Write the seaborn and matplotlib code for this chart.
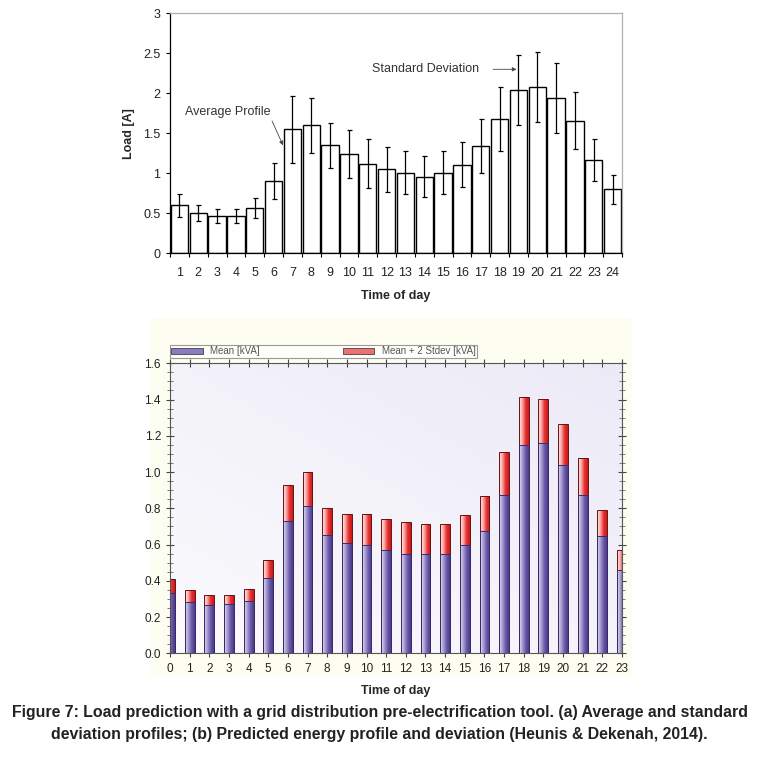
import numpy as np
import pandas as pd
import matplotlib
matplotlib.use("Agg")
import matplotlib.pyplot as plt
import seaborn as sns
from matplotlib.colors import LinearSegmentedColormap
from matplotlib.patches import Rectangle, Patch
from matplotlib.ticker import MultipleLocator, FixedLocator, FormatStrFormatter

# (a) average profile with standard deviation
top_hours = [str(h) for h in range(1, 25)]
top_mean = [0.60, 0.51, 0.47, 0.47, 0.57, 0.90, 1.55, 1.60, 1.35, 1.24, 1.12, 1.05,
            1.01, 0.96, 1.01, 1.11, 1.34, 1.68, 2.04, 2.08, 1.94, 1.66, 1.17, 0.80]
top_std = [0.145, 0.10, 0.085, 0.085, 0.125, 0.225, 0.42, 0.345, 0.28, 0.30, 0.305, 0.285,
           0.265, 0.26, 0.265, 0.28, 0.34, 0.40, 0.44, 0.44, 0.44, 0.36, 0.265, 0.18]

# (b) predicted energy profile
bot_hours = [str(h) for h in range(0, 24)]
bot_mean = [0.335, 0.285, 0.265, 0.27, 0.29, 0.415, 0.73, 0.815, 0.655, 0.61, 0.595, 0.57,
            0.55, 0.55, 0.55, 0.595, 0.675, 0.875, 1.15, 1.16, 1.04, 0.875, 0.645, 0.458]
bot_upper = [0.408, 0.348, 0.323, 0.323, 0.355, 0.517, 0.93, 1.003, 0.803, 0.77, 0.77, 0.742,
             0.722, 0.711, 0.711, 0.762, 0.87, 1.108, 1.413, 1.402, 1.266, 1.077, 0.791, 0.568]

sns.set_style("white")
plt.rcParams['font.family'] = ['Liberation Sans', 'DejaVu Sans']

W, H = 759, 757
fig = plt.figure(figsize=(W / 100, H / 100), dpi=100)


def box(l, t, r, b):
    return [l / W, 1 - b / H, (r - l) / W, (b - t) / H]


# ---------- top chart ----------
ax1 = fig.add_axes(box(170, 13.3, 622, 253.3))
df_top = pd.DataFrame({'hour': top_hours, 'load': top_mean})
sns.barplot(data=df_top, x='hour', y='load', color='white', edgecolor='black',
            linewidth=1.0, width=0.92, errorbar=None, ax=ax1)
ax1.errorbar(np.arange(len(top_mean)), top_mean, yerr=top_std, fmt='none',
             ecolor='black', elinewidth=0.9, capsize=1.8, capthick=0.9)
ax1.set_xlim(-0.5, 23.5)
ax1.set_ylim(0, 3)
ax1.yaxis.set_major_locator(MultipleLocator(0.5))
ax1.yaxis.set_major_formatter(FormatStrFormatter('%g'))
ax1.xaxis.set_minor_locator(FixedLocator(np.arange(-0.5, 24, 1)))
ax1.tick_params(axis='x', which='major', length=0, labelsize=9, pad=10, colors='#222222')
ax1.tick_params(axis='x', which='minor', length=3, width=0.8, direction='out', color='black', bottom=True)
ax1.tick_params(axis='y', length=3, width=0.8, direction='out', labelsize=9,
                color='black', labelcolor='#222222', left=True, pad=4)
for s in ['left', 'bottom']:
    ax1.spines[s].set_color('black')
    ax1.spines[s].set_linewidth(0.9)
for s in ['top', 'right']:
    ax1.spines[s].set_color('#b0b0b0')
    ax1.spines[s].set_linewidth(0.9)
ax1.set_xlabel('Time of day', fontsize=9, fontweight='bold', labelpad=8)
ax1.set_ylabel('Load [A]', fontsize=9, fontweight='bold', labelpad=6)
ax1.annotate('Average Profile', xy=(5.5, 1.35), xytext=(0.3, 1.77), fontsize=9,
             color='#333333', va='center',
             arrowprops=dict(arrowstyle='-|>', color='#444444', lw=0.6,
                             mutation_scale=6, shrinkA=0, shrinkB=0, relpos=(1.0, 0.0)))
ax1.annotate('Standard Deviation', xy=(17.9, 2.30), xytext=(10.2, 2.30), fontsize=9,
             color='#333333', va='center',
             arrowprops=dict(arrowstyle='-|>', color='#444444', lw=0.6,
                             mutation_scale=6, shrinkA=8, shrinkB=0))

# ---------- bottom chart ----------
fig.patches.append(Rectangle((150 / W, 1 - 676 / H), (632 - 150) / W, (676 - 318) / H,
                             transform=fig.transFigure, facecolor='#fdfdf1',
                             edgecolor='none', zorder=-1))
ax2 = fig.add_axes(box(170, 363.3, 622, 653.3))
ax2.set_facecolor('none')

df_bot = pd.DataFrame({'hour': bot_hours, 'mean': bot_mean, 'upper': bot_upper})
sns.barplot(data=df_bot, x='hour', y='upper', color='#e8262a', width=0.5,
            errorbar=None, ax=ax2)
red_bars = list(ax2.patches)
sns.barplot(data=df_bot, x='hour', y='mean', color='#5a4a9a', width=0.5,
            errorbar=None, ax=ax2)
purple_bars = [p for p in ax2.patches if p not in red_bars]

XMIN, XMAX = 0, 23

# background gradient
gx, gy = np.meshgrid(np.linspace(0, 1, 100), np.linspace(0, 1, 100))
bg_cmap = LinearSegmentedColormap.from_list('bg', ['#ffffff', '#ebe9f6'])
ax2.imshow(0.35 * gx + 0.65 * (1 - gy) * 0.6 + 0.2, cmap=bg_cmap, vmin=0, vmax=1,
           extent=(0, 1, 0, 1), transform=ax2.transAxes, aspect='auto', zorder=0,
           origin='upper')


def grad_fill(ax, patch, colors, edge):
    x, y = patch.get_x(), patch.get_y()
    w, h = patch.get_width(), patch.get_height()
    cmap = LinearSegmentedColormap.from_list('g', colors)
    grad = np.linspace(0, 1, 64)
    # keep only the part of the bar inside the x range
    x0, x1 = max(x, XMIN), min(x + w, XMAX)
    i0 = int(round((x0 - x) / w * 63))
    i1 = int(round((x1 - x) / w * 63)) + 1
    im = ax.imshow(grad[i0:i1].reshape(1, -1), cmap=cmap, vmin=0, vmax=1,
                   extent=(x0, x1, y, y + h), aspect='auto', zorder=0.9)
    im.set_clip_path(patch)
    patch.set_facecolor('none')
    patch.set_edgecolor(edge)
    patch.set_linewidth(0.7)


for p in red_bars:
    grad_fill(ax2, p, ['#fff0f0', '#f8a8a8', '#e83030', '#c81818'], '#6a1010')
for p in purple_bars:
    grad_fill(ax2, p, ['#e4e0f2', '#a89ed2', '#6a5aa8', '#4a3a8a'], '#3a2a6a')

ax2.set_xlim(XMIN, XMAX)
ax2.set_ylim(0, 1.6)
ax2.yaxis.set_major_locator(MultipleLocator(0.2))
ax2.yaxis.set_minor_locator(MultipleLocator(0.05))
ax2.yaxis.set_major_formatter(FormatStrFormatter('%.1f'))
ax2.tick_params(axis='both', which='major', direction='inout', length=6, width=0.8,
                color='#444444', labelsize=8.5, labelcolor='#222222',
                bottom=True, left=True, right=True)
ax2.tick_params(axis='x', which='major', top=True)
ax2.tick_params(axis='y', which='minor', direction='inout', length=4, width=0.6,
                color='#666666', left=True, right=True)
ax2.tick_params(axis='x', pad=4)
for s in ax2.spines.values():
    s.set_color('#555555')
    s.set_linewidth(0.8)
ax2.set_xlabel('Time of day', fontsize=9, fontweight='bold', labelpad=7)
ax2.set_ylabel('')

handles = [Patch(facecolor='#8a7cc0', edgecolor='#444444', linewidth=0.6, label='Mean [kVA]'),
           Patch(facecolor='#f07070', edgecolor='#444444', linewidth=0.6, label='Mean + 2 Stdev [kVA]')]
leg = ax2.legend(handles=handles, loc='lower left', bbox_to_anchor=(0, 1.02, 0.68, 0.04),
                 mode='expand', ncol=2, frameon=True, fancybox=False, fontsize=7,
                 handlelength=3.2, handleheight=0.6, borderpad=0.15, borderaxespad=0,
                 labelcolor='#555555', columnspacing=1.0)
leg.get_frame().set_edgecolor('#808080')
leg.get_frame().set_linewidth(0.8)

# caption
fig.text(0.5, 1 - 713 / H, 'Figure 7: Load prediction with a grid distribution pre-electrification tool. (a) Average and standard',
         ha='center', va='center', fontsize=11.4, fontweight='bold', color='#222222')
fig.text(0.5, 1 - 735 / H, 'deviation profiles; (b) Predicted energy profile and deviation (Heunis & Dekenah, 2014).',
         ha='center', va='center', fontsize=11.4, fontweight='bold', color='#222222')

fig.savefig('out.png', dpi=100)
plt.close()
